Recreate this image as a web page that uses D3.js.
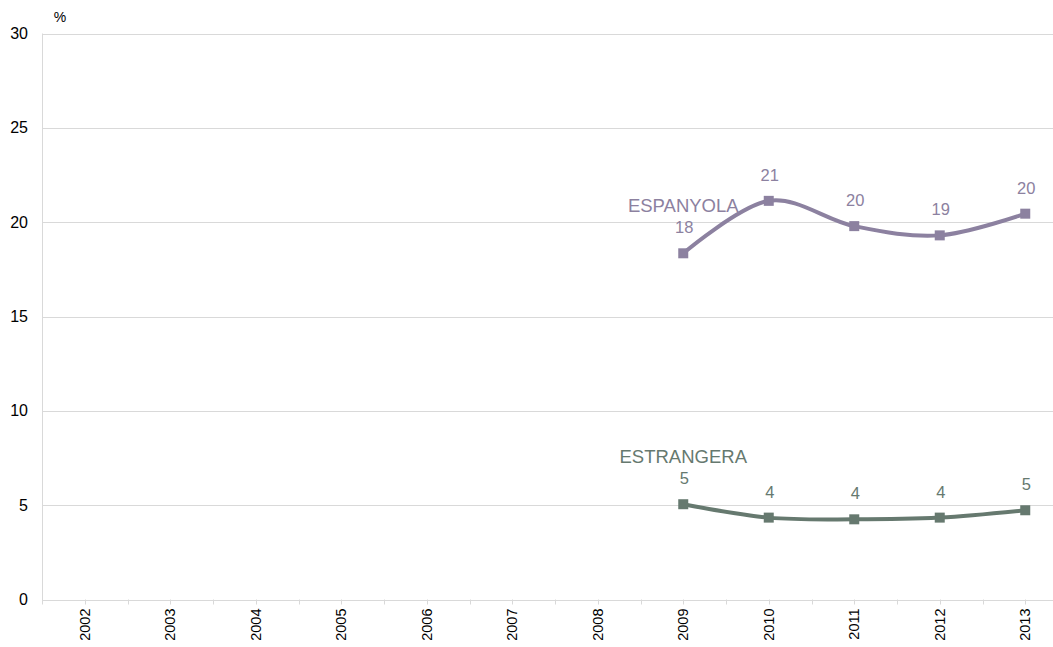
<!DOCTYPE html>
<html>
<head>
<meta charset="utf-8">
<script src="https://cdn.jsdelivr.net/npm/d3@7"></script>
<style>
  body { margin: 0; background: #fff; }
  svg { font-family: "Liberation Sans", Arial, sans-serif; }
</style>
</head>
<body>
<svg width="1053" height="647"></svg>
<script>
// data
var years = ["2002", "2003", "2004", "2005", "2006", "2007", "2008", "2009", "2010", "2011", "2012", "2013"];
var espYears = ["2009", "2010", "2011", "2012", "2013"];
var espValues = [18.35, 21.13, 19.79, 19.3, 20.45];
var estValues = [5.05, 4.34, 4.25, 4.34, 4.73];
var yTicks = [0, 5, 10, 15, 20, 25, 30];

var series = [
    { name: "ESPANYOLA", color: "#8c81a0", values: espValues },
    { name: "ESTRANGERA", color: "#66796f", values: estValues }
];

var svg = d3.select("svg");
var plotLeft = 42, plotTop = 33.5, plotBottom = 599.5;
var step = 85.5;

var x = d3.scaleBand().domain(years).range([plotLeft, plotLeft + step * years.length]);
var y = d3.scaleLinear().domain([0, 30]).range([plotBottom, plotTop]);

// gridlines
svg.selectAll(".grid")
    .data(yTicks)
    .enter().append("line")
    .attr("x1", plotLeft)
    .attr("x2", 1053)
    .attr("y1", function(d) { return Math.round(y(d)) + 0.5; })
    .attr("y2", function(d) { return Math.round(y(d)) + 0.5; })
    .style("stroke", "#d9d9d9")
    .style("stroke-width", 1);

// y axis line
svg.append("line")
    .attr("x1", plotLeft + 0.5).attr("x2", plotLeft + 0.5)
    .attr("y1", plotTop).attr("y2", plotBottom + 4)
    .style("stroke", "#d9d9d9");

// y labels
svg.selectAll(".ylab")
    .data(yTicks)
    .enter().append("text")
    .attr("x", 28)
    .attr("y", function(d) { return y(d) + 5.5; })
    .attr("text-anchor", "end")
    .style("font-size", "16px")
    .style("fill", "#000")
    .text(function(d) { return d; });

svg.append("text")
    .attr("x", 60).attr("y", 22)
    .attr("text-anchor", "middle")
    .style("font-size", "14px")
    .style("fill", "#000")
    .text("%");

// x ticks at centers and boundaries
var tickPos = [];
years.forEach(function(d) {
    tickPos.push(x(d));
    tickPos.push(x(d) + x.bandwidth() / 2);
});
svg.selectAll(".xtick")
    .data(tickPos)
    .enter().append("line")
    .attr("x1", function(d) { return Math.round(d) + 0.5; })
    .attr("x2", function(d) { return Math.round(d) + 0.5; })
    .attr("y1", plotBottom)
    .attr("y2", plotBottom + 5)
    .style("stroke", "#d9d9d9");

// x labels
svg.selectAll(".xlab")
    .data(years)
    .enter().append("text")
    .attr("transform", function(d) {
        return "translate(" + (x(d) + x.bandwidth() / 2 + 5) + "," + (plotBottom + 9) + ") rotate(-90)";
    })
    .attr("text-anchor", "end")
    .style("font-size", "14.5px")
    .style("fill", "#000")
    .text(function(d) { return d; });

var line = d3.line()
    .x(function(d) { return x(d.year) + x.bandwidth() / 2; })
    .y(function(d) { return y(d.value); })
    .curve(d3.curveCardinal.tension(0));

series.forEach(function(s) {
    var pts = espYears.map(function(yr, i) { return { year: yr, value: s.values[i] }; });

    svg.append("path")
        .attr("d", line(pts))
        .style("fill", "none")
        .style("stroke", s.color)
        .style("stroke-width", 4);

    svg.selectAll(null)
        .data(pts)
        .enter().append("rect")
        .attr("x", function(d) { return x(d.year) + x.bandwidth() / 2 - 5; })
        .attr("y", function(d) { return y(d.value) - 5; })
        .attr("width", 10)
        .attr("height", 10)
        .style("fill", s.color);

    svg.selectAll(null)
        .data(pts)
        .enter().append("text")
        .attr("x", function(d) { return x(d.year) + x.bandwidth() / 2 + 1; })
        .attr("y", function(d) { return y(d.value) - 20; })
        .attr("text-anchor", "middle")
        .style("font-size", "16.5px")
        .style("fill", s.color)
        .text(function(d) { return Math.round(d.value); });

    svg.append("text")
        .attr("x", x(espYears[0]) + x.bandwidth() / 2)
        .attr("y", y(s.values[0]) - 41)
        .attr("text-anchor", "middle")
        .style("font-size", "18.5px")
        .style("fill", s.color)
        .text(s.name);
});
</script>
</body>
</html>
